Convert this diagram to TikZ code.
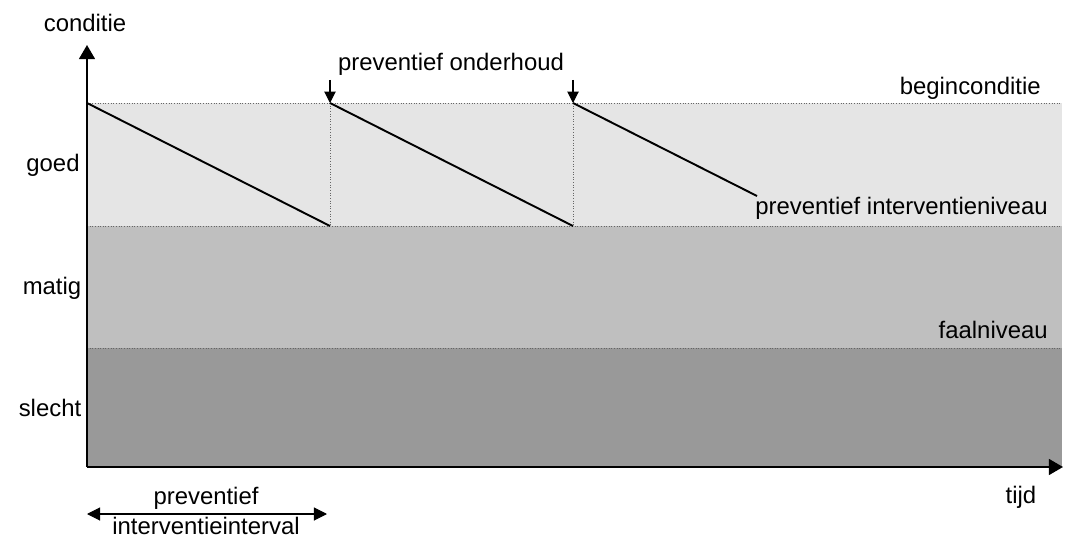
\documentclass[tikz,border=0pt]{standalone}
\usepackage{fontspec}
\setmainfont{Liberation Sans}
\usetikzlibrary{arrows.meta, positioning}
\tikzset{
    x=0.02cm, y=-0.02cm, % one unit is one pixel of the original picture
    lbl/.style={font=\fontsize{13.6}{16}\selectfont, inner sep=0pt}, % all labels
    axis/.style={line width=1.1pt, -{Triangle[length=8pt, width=9pt]}},
    tooth/.style={line width=1.1pt},
    level/.style={densely dotted, gray!80!black, line width=0.5pt},
    pmarker/.style={line width=0.6pt, -{Triangle[length=6.5pt, width=6.5pt]}},
}
\definecolor{goodband}{gray}{0.90}
\definecolor{fairband}{gray}{0.75}
\definecolor{poorband}{gray}{0.60}

\begin{document}
\begin{tikzpicture}
    \useasboundingbox (0,0) rectangle (1069,537);
    % condition bands
    \fill[goodband] (87,103) rectangle (1062,226);
    \fill[fairband] (87,226) rectangle (1062,348);
    \fill[poorband] (87,348) rectangle (1062,467);
    % named points
    \coordinate (o) at (87,467);
    \coordinate (ytop) at (87,45);
    \coordinate (xend) at (1063,467);
    \coordinate (s0) at (87,103);
    \coordinate (e0) at (330,226);
    \coordinate (s1) at (330,103);
    \coordinate (e1) at (573,226);
    \coordinate (s2) at (573,103);
    \coordinate (e2) at (757,196);
    \coordinate (a1) at (330,80);
    \coordinate (a2) at (573,80);
    \coordinate (il) at (87,514);
    \coordinate (ir) at (327,514);
    % levels
    \draw[level] (87,103) -- (1062,103);
    \draw[level] (87,226) -- (1062,226);
    \draw[level] (87,348) -- (1062,348);
    \draw[level] (s1) -- (e0);
    \draw[level] (s2) -- (e1);
    % saw tooth
    \draw[tooth] (s0) -- (e0);
    \draw[tooth] (s1) -- (e1);
    \draw[tooth] (s2) -- (e2);
    % axes
    \draw[axis] (o) -- (ytop);
    \draw[axis] (o) -- (xend);
    % labels
    \node[lbl] (cond) at (85,23) {conditie};
    \node[lbl] (time) at (1021,497) {tijd};
    \node[lbl] (good) at (53,165) {goed};
    \node[lbl] (fair) at (52,288) {matig};
    \node[lbl] (poor) at (50,408) {slecht};
    \node[lbl, anchor=east] (start) at (1041,88) {beginconditie};
    \node[lbl, anchor=east] (pil) at (1048,208) {preventief interventieniveau};
    \node[lbl, anchor=east] (fail) at (1048,330) {faalniveau};
    \node[lbl] (maint) at (451,64) {preventief onderhoud};
    \node[lbl] (ivtop) at (206,498) {preventief};
    \node[lbl] (ivbot) at (206,526) {interventieinterval};
    % maintenance moments
    \draw[pmarker] (a1) -- (s1);
    \draw[pmarker] (a2) -- (s2);
    % interval
    \draw[line width=0.6pt, {Triangle[length=7.5pt, width=7.5pt]}-{Triangle[length=7.5pt, width=7.5pt]}] (il) -- (ir);
\end{tikzpicture}
\end{document}
